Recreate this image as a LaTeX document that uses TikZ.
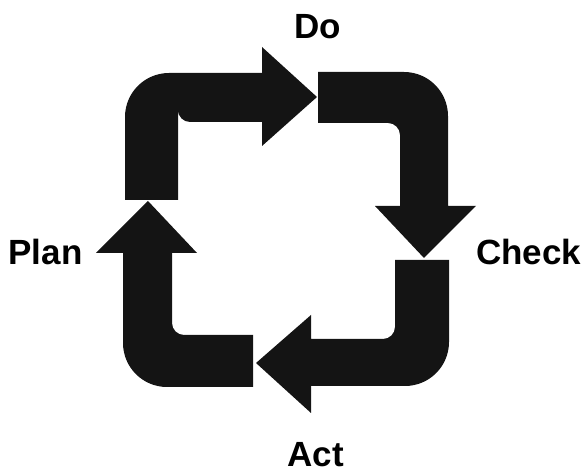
\documentclass[tikz,border=0pt]{standalone}
\usepackage{fontspec}
\setmainfont{Liberation Sans}
\definecolor{arrowblack}{HTML}{141414}
\tikzset{
  bentarrow/.style={fill=arrowblack},
  phase/.style={anchor=base,inner sep=0pt,font=\bfseries\fontsize{35}{42}\selectfont}
}
\begin{document}
\begin{tikzpicture}[x=1pt,y=1pt]
\useasboundingbox (0,0) rectangle (582,474);
% labels
\node[phase] (do) at(317.5,435.7) {Do};
\node[phase] (plan) at(45.5,209.7) {Plan};
\node[phase] (check) at(528.7,209.7) {Check};
\node[phase,text depth=0pt] (act) at(315.8,7.5) {Act};
% plan -> do
\fill[bentarrow] (125,274) -- (125,357) arc[start angle=180,end angle=90,radius=44]
  -- (262,401) -- (262,427) -- (317,377) -- (262,328) -- (262,352)
  -- (190,352) arc[start angle=270,end angle=180,radius=12] -- (178,274) -- cycle;
% do -> check
\fill[bentarrow] (318,402) -- (404,402) arc[start angle=90,end angle=0,radius=44]
  -- (448,268) -- (476,268) -- (424,216) -- (375,268) -- (400,268)
  -- (400,339) arc[start angle=0,end angle=90,radius=12] -- (318,351) -- cycle;
% check -> act
\fill[bentarrow] (449,214) -- (449,132) arc[start angle=0,end angle=-90,radius=44]
  -- (311,88) -- (311,61) -- (256,111) -- (311,159) -- (311,135)
  -- (383,135) arc[start angle=-90,end angle=0,radius=12] -- (395,214) -- cycle;
% act -> plan
\fill[bentarrow] (253,87) -- (167,87) arc[start angle=270,end angle=180,radius=44]
  -- (123,221) -- (96,221) -- (148,273) -- (197,221) -- (172,221)
  -- (172,151) arc[start angle=180,end angle=270,radius=12] -- (253,139) -- cycle;
\end{tikzpicture}
\end{document}
